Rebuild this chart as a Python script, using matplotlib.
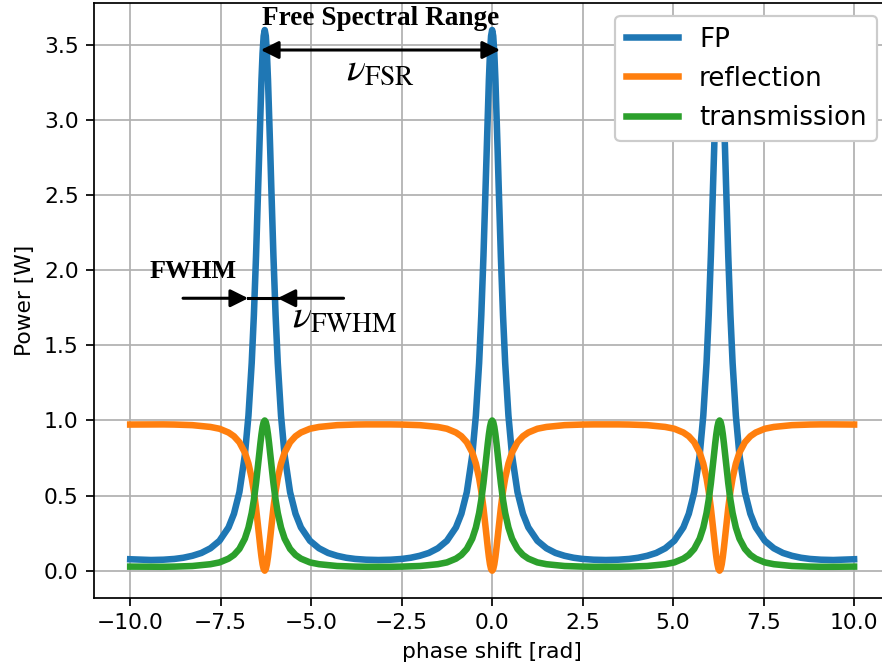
import matplotlib
matplotlib.use("Agg")
import matplotlib.pyplot as plt

# ---- data (phase shift in rad) ----
phase = [
    -10.0, -9.425,
    -9.083, -8.783, -8.533, -8.283, -8.033, -7.783, -7.533, -7.283, -7.133, -6.983, -6.833,
    -6.733, -6.643, -6.583, -6.523, -6.463, -6.433, -6.403, -6.373, -6.343, -6.313,
    -6.283,
    -6.253, -6.223, -6.193, -6.163, -6.133, -6.103, -6.043, -5.983, -5.923, -5.833,
    -5.733, -5.583, -5.433, -5.283, -5.033, -4.783, -4.533, -4.283, -4.033, -3.783, -3.483,
    -3.142,
    -2.8, -2.5, -2.25, -2.0, -1.75, -1.5, -1.25, -1.0, -0.85, -0.7, -0.55,
    -0.45, -0.36, -0.3, -0.24, -0.18, -0.15, -0.12, -0.09, -0.06, -0.03,
    0.0,
    0.03, 0.06, 0.09, 0.12, 0.15, 0.18, 0.24, 0.3, 0.36, 0.45,
    0.55, 0.7, 0.85, 1.0, 1.25, 1.5, 1.75, 2.0, 2.25, 2.5, 2.8,
    3.142,
    3.483, 3.783, 4.033, 4.283, 4.533, 4.783, 5.033, 5.283, 5.433, 5.583, 5.733,
    5.833, 5.923, 5.983, 6.043, 6.103, 6.133, 6.163, 6.193, 6.223, 6.253,
    6.283,
    6.313, 6.343, 6.373, 6.403, 6.433, 6.463, 6.523, 6.583, 6.643, 6.733,
    6.833, 6.983, 7.133, 7.283, 7.533, 7.783, 8.033, 8.283, 8.533, 8.783, 9.083,
    9.425, 10.0,
]

fp_power = [
    0.076, 0.071,
    0.073, 0.078, 0.086, 0.099, 0.118, 0.149, 0.199, 0.288, 0.379, 0.523, 0.768,
    1.032, 1.383, 1.701, 2.097, 2.564, 2.811, 3.051, 3.269, 3.445, 3.560,
    3.600,
    3.560, 3.445, 3.269, 3.051, 2.811, 2.564, 2.097, 1.701, 1.383, 1.032,
    0.768, 0.523, 0.379, 0.288, 0.199, 0.149, 0.118, 0.099, 0.086, 0.078, 0.073,
    0.071,
    0.073, 0.078, 0.086, 0.099, 0.118, 0.149, 0.199, 0.288, 0.379, 0.523, 0.768,
    1.032, 1.383, 1.701, 2.097, 2.564, 2.811, 3.051, 3.269, 3.445, 3.560,
    3.600,
    3.560, 3.445, 3.269, 3.051, 2.811, 2.564, 2.097, 1.701, 1.383, 1.032,
    0.768, 0.523, 0.379, 0.288, 0.199, 0.149, 0.118, 0.099, 0.086, 0.078, 0.073,
    0.071,
    0.073, 0.078, 0.086, 0.099, 0.118, 0.149, 0.199, 0.288, 0.379, 0.523, 0.768,
    1.032, 1.383, 1.701, 2.097, 2.564, 2.811, 3.051, 3.269, 3.445, 3.560,
    3.600,
    3.560, 3.445, 3.269, 3.051, 2.811, 2.564, 2.097, 1.701, 1.383, 1.032,
    0.768, 0.523, 0.379, 0.288, 0.199, 0.149, 0.118, 0.099, 0.086, 0.078, 0.073,
    0.071, 0.076,
]

transmission = [
    0.027, 0.026,
    0.026, 0.027, 0.029, 0.031, 0.037, 0.043, 0.055, 0.080, 0.105, 0.145, 0.213,
    0.287, 0.384, 0.472, 0.583, 0.712, 0.781, 0.848, 0.908, 0.957, 0.989,
    1.000,
    0.989, 0.957, 0.908, 0.848, 0.781, 0.712, 0.583, 0.472, 0.384, 0.287,
    0.213, 0.145, 0.105, 0.080, 0.055, 0.043, 0.037, 0.031, 0.029, 0.027, 0.026,
    0.026,
    0.026, 0.027, 0.029, 0.031, 0.037, 0.043, 0.055, 0.080, 0.105, 0.145, 0.213,
    0.287, 0.384, 0.472, 0.583, 0.712, 0.781, 0.848, 0.908, 0.957, 0.989,
    1.000,
    0.989, 0.957, 0.908, 0.848, 0.781, 0.712, 0.583, 0.472, 0.384, 0.287,
    0.213, 0.145, 0.105, 0.080, 0.055, 0.043, 0.037, 0.031, 0.029, 0.027, 0.026,
    0.026,
    0.026, 0.027, 0.029, 0.031, 0.037, 0.043, 0.055, 0.080, 0.105, 0.145, 0.213,
    0.287, 0.384, 0.472, 0.583, 0.712, 0.781, 0.848, 0.908, 0.957, 0.989,
    1.000,
    0.989, 0.957, 0.908, 0.848, 0.781, 0.712, 0.583, 0.472, 0.384, 0.287,
    0.213, 0.145, 0.105, 0.080, 0.055, 0.043, 0.037, 0.031, 0.029, 0.027, 0.026,
    0.026, 0.027,
]

reflection = [
    0.973, 0.974,
    0.974, 0.973, 0.971, 0.969, 0.963, 0.957, 0.945, 0.920, 0.895, 0.855, 0.787,
    0.713, 0.616, 0.528, 0.417, 0.288, 0.219, 0.152, 0.092, 0.043, 0.011,
    0.000,
    0.011, 0.043, 0.092, 0.152, 0.219, 0.288, 0.417, 0.528, 0.616, 0.713,
    0.787, 0.855, 0.895, 0.920, 0.945, 0.957, 0.963, 0.969, 0.971, 0.973, 0.974,
    0.974,
    0.974, 0.973, 0.971, 0.969, 0.963, 0.957, 0.945, 0.920, 0.895, 0.855, 0.787,
    0.713, 0.616, 0.528, 0.417, 0.288, 0.219, 0.152, 0.092, 0.043, 0.011,
    0.000,
    0.011, 0.043, 0.092, 0.152, 0.219, 0.288, 0.417, 0.528, 0.616, 0.713,
    0.787, 0.855, 0.895, 0.920, 0.945, 0.957, 0.963, 0.969, 0.971, 0.973, 0.974,
    0.974,
    0.974, 0.973, 0.971, 0.969, 0.963, 0.957, 0.945, 0.920, 0.895, 0.855, 0.787,
    0.713, 0.616, 0.528, 0.417, 0.288, 0.219, 0.152, 0.092, 0.043, 0.011,
    0.000,
    0.011, 0.043, 0.092, 0.152, 0.219, 0.288, 0.417, 0.528, 0.616, 0.713,
    0.787, 0.855, 0.895, 0.920, 0.945, 0.957, 0.963, 0.969, 0.971, 0.973, 0.974,
    0.974, 0.973,
]

series_labels = ["FP", "reflection", "transmission"]

# annotation anchor values (data units)
fsr_start, fsr_end, fsr_level = -6.39, 0.22, 3.467
fwhm_left_tail, fwhm_left_tip = -8.54, -6.74
fwhm_right_tip, fwhm_right_tail = -5.93, -4.105
fwhm_level = 1.814

# ---- figure ----
DPI = 157
fig = plt.figure(figsize=(882 / DPI, 670 / DPI), dpi=DPI)
ax = fig.add_axes([94 / 882, 72.3 / 670, 796.3 / 882, 594.7 / 670])

lw = 3.0
ax.plot(phase, fp_power, color="tab:blue", lw=lw, label=series_labels[0])
ax.plot(phase, reflection, color="tab:orange", lw=lw, label=series_labels[1])
ax.plot(phase, transmission, color="tab:green", lw=lw, label=series_labels[2])

ax.set_xlim(-11, 11)
ax.set_ylim(-0.18, 3.78)
ax.set_xticks([-10, -7.5, -5, -2.5, 0, 2.5, 5, 7.5, 10])
ax.set_yticks([0, 0.5, 1.0, 1.5, 2.0, 2.5, 3.0, 3.5])
ax.grid(True, color="#b0b0b0", lw=0.8)
ax.set_axisbelow(True)
ax.set_xlabel("phase shift [rad]")
ax.set_ylabel("Power [W]")

leg = ax.legend(loc="upper right", fontsize=12, framealpha=1.0)

# ---- annotations ----
serif = ["Liberation Serif", "DejaVu Serif"]
ax.text(-3.09, 3.68, "Free Spectral Range", family=serif, weight="bold",
        fontsize=12.5, ha="center", va="center", zorder=6)
ax.annotate("", xy=(fsr_end, fsr_level), xytext=(fsr_start, fsr_level),
            arrowprops=dict(arrowstyle="<|-|>,head_length=0.4,head_width=0.2",
                            color="black", lw=1.4, mutation_scale=17,
                            shrinkA=0, shrinkB=0), zorder=6)
ax.text(-4.05, 3.267, r"$\nu_{\rm FSR}$", math_fontfamily="stix",
        fontsize=18, ha="left", va="baseline", zorder=6)

ax.text(-8.26, 1.995, "FWHM", family=serif, weight="bold",
        fontsize=12, ha="center", va="center", zorder=6)
ax.annotate("", xy=(fwhm_left_tip, fwhm_level), xytext=(fwhm_left_tail, fwhm_level),
            arrowprops=dict(arrowstyle="-|>,head_length=0.4,head_width=0.2",
                            color="black", lw=1.4, mutation_scale=17,
                            shrinkA=0, shrinkB=0), zorder=6)
ax.annotate("", xy=(fwhm_right_tip, fwhm_level), xytext=(fwhm_right_tail, fwhm_level),
            arrowprops=dict(arrowstyle="-|>,head_length=0.4,head_width=0.2",
                            color="black", lw=1.4, mutation_scale=17,
                            shrinkA=0, shrinkB=0), zorder=6)
ax.plot([fwhm_left_tip, fwhm_right_tip], [fwhm_level, fwhm_level], color="black", lw=1.4, zorder=6)
ax.text(-5.52, 1.615, r"$\nu_{\rm FWHM}$", math_fontfamily="stix",
        fontsize=18, ha="left", va="baseline", zorder=6)

fig.savefig("out.png", dpi=DPI)
